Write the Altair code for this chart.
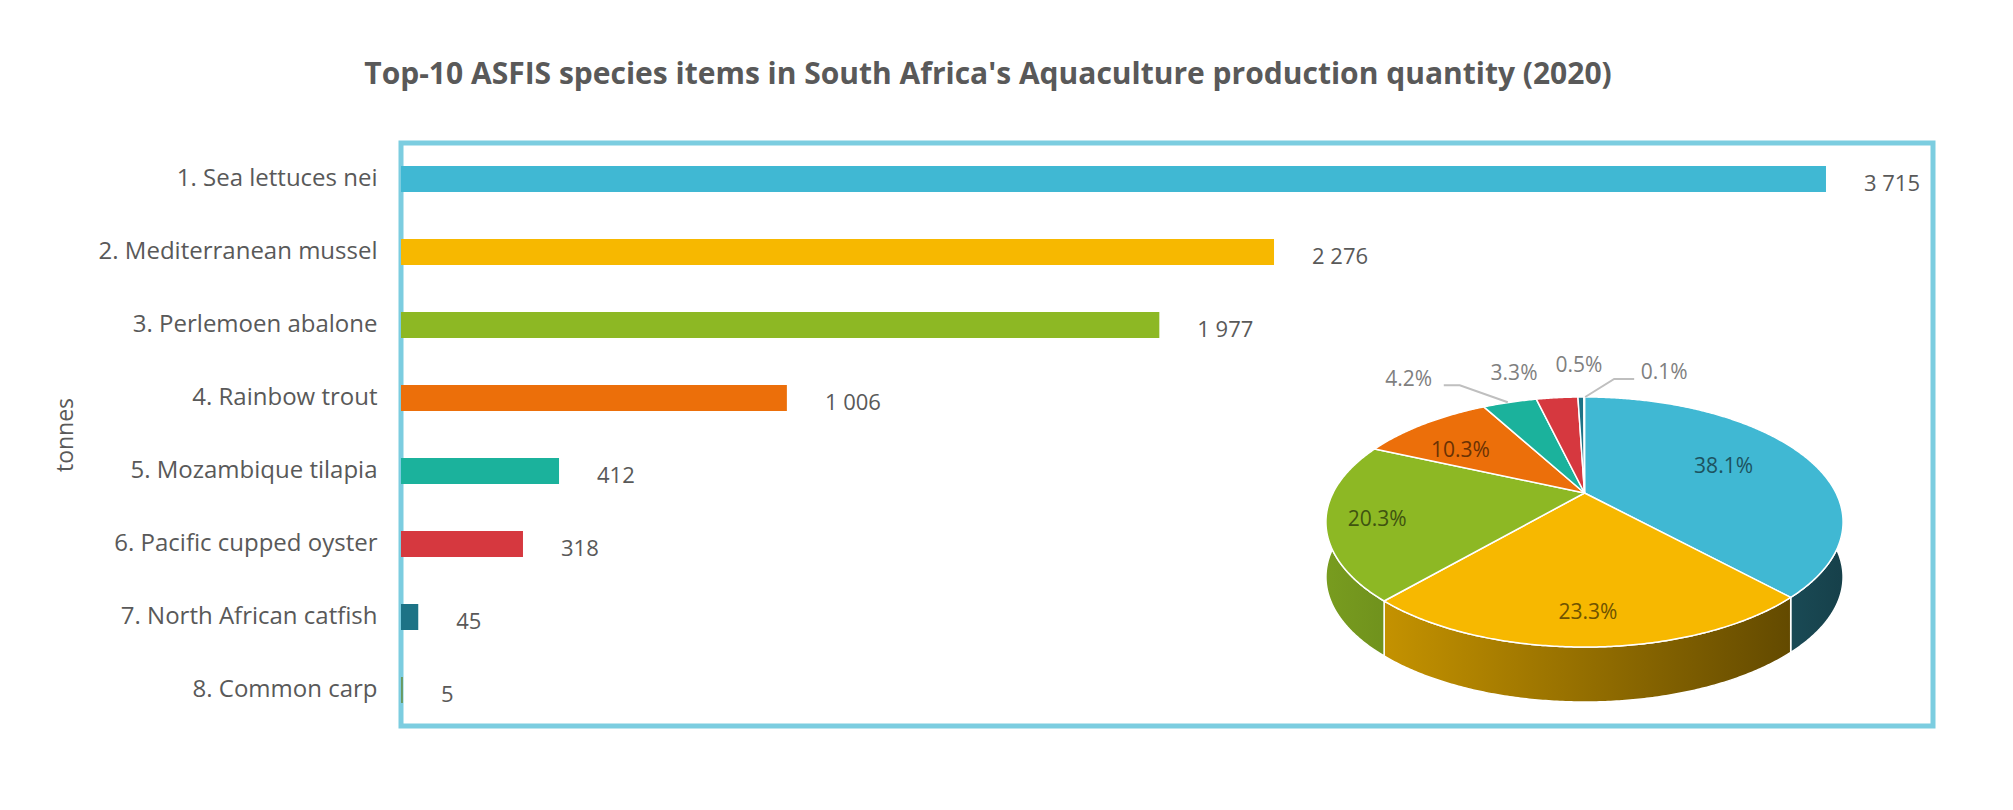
import math
import altair as alt
import pandas as pd

# ---------------- data ----------------
species = [
    "1. Sea lettuces nei",
    "2. Mediterranean mussel",
    "3. Perlemoen abalone",
    "4. Rainbow trout",
    "5. Mozambique tilapia",
    "6. Pacific cupped oyster",
    "7. North African catfish",
    "8. Common carp",
]
tonnes = [3715, 2276, 1977, 1006, 412, 318, 45, 5]

TITLE = "Top-10 ASFIS species items in South Africa's Aquaculture production quantity (2020)"
Y_TITLE = "tonnes"

# ---------------- style / layout ----------------
palette = ["#40B8D3", "#F7B800", "#8DB824", "#EC6F0A", "#1BB29C", "#D6383F", "#1D7386", "#6A9A60"]
TEXT_GREY = "#595959"
FONT = "Open Sans"

W, H = 1532, 583            # plot area (px)
XMAX = 3994                 # x scale upper bound (tonnes)
PAD_IN, PAD_OUT = 0.644, 0.315

# pie geometry (plot-local px), perspective 3D pie
PIE_CX, PIE_APEX_Y = 1183.5, 350.0
PIE_SX, PIE_SY, PIE_K, PIE_DEPTH = 251.5, 118.3, 0.232, 55.0
INNER_R = 0.75
INNER_DY = 7
INNER_NUDGE = {0: (-26, -3), 1: (0, 6), 2: (-16, 0), 3: (0, 5)}
# outside label placement relative to slice edge point (index -> dx, dy)
OUT_LABEL_OFFSETS = {4: (-101, -22), 5: (-43, -24), 6: (-2, -31), 7: (80, -24)}
LEADER_OFFSETS = {4: [(-66, -17), (-50, -17), (-2, 0)], 7: [(50, -18), (30, -18), (1, 0)]}

total = sum(tonnes)


def project(theta_deg, r=1.0):
    t = math.radians(theta_deg)
    u, v = r * math.sin(t), r * math.cos(t)
    w = 1 + PIE_K * v
    return PIE_CX + PIE_SX * u / w, PIE_APEX_Y - PIE_SY * v / w


def arc(a0, a1, step=0.5):
    n = max(2, int(math.ceil((a1 - a0) / step)) + 1)
    return [project(a0 + (a1 - a0) * j / (n - 1)) for j in range(n)]


def shade(hexcol, f):
    h = hexcol.lstrip("#")
    r, g, b = (int(h[i:i + 2], 16) for i in (0, 2, 4))
    return "#{:02X}{:02X}{:02X}".format(*(max(0, min(255, int(round(c * f)))) for c in (r, g, b)))


RX = PIE_SX / math.sqrt(1 - PIE_K ** 2)


def light(x):
    return 0.85 - 0.5 * (x - (PIE_CX - RX)) / (2 * RX)


# ---------------- derived tables ----------------
bar_df = pd.DataFrame({
    "species": species,
    "tonnes": tonnes,
    "label": [f"{v:,}".replace(",", " ") for v in tonnes],
})

top_rows, side_pieces, lab_rows, lead_rows = [], [], [], []
cum = 0
for i, (name, v) in enumerate(zip(species, tonnes)):
    a0 = cum / total * 360
    a1 = (cum + v) / total * 360
    cum += v
    mid = (a0 + a1) / 2
    pts = [(PIE_CX, PIE_APEX_Y)] + arc(a0, a1) + [(PIE_CX, PIE_APEX_Y)]
    for j, (x, y) in enumerate(pts):
        top_rows.append({"species": name, "i": j, "x": x, "y": y})
    lo, hi = max(a0, 90.0), min(a1, 270.0)
    if hi > lo:
        up = arc(lo, hi)
        down = [(x, y + PIE_DEPTH) for (x, y) in reversed(up)]
        ring = up + down + [up[0]]
        side_pieces.append((i, pd.DataFrame({"i": range(len(ring)),
                                             "x": [p[0] for p in ring],
                                             "y": [p[1] for p in ring]})))
    pct = f"{v / total * 100:.1f}%"
    if i in OUT_LABEL_OFFSETS:
        ex, ey = project(mid, 1.0)
        dx, dy = OUT_LABEL_OFFSETS[i]
        lab_rows.append({"txt": pct, "x": ex + dx, "y": ey + dy, "col": "#7F7F7F"})
        if i in LEADER_OFFSETS:
            for j, (ox, oy) in enumerate(LEADER_OFFSETS[i]):
                lead_rows.append({"species": name, "i": j, "x": ex + ox, "y": ey + oy})
    else:
        lx, ly = project(mid, INNER_R)
        nx, ny = INNER_NUDGE.get(i, (0, 0))
        lab_rows.append({"txt": pct, "x": lx + nx, "y": ly + INNER_DY + ny,
                         "col": shade(palette[i], 0.45)})

top_df = pd.DataFrame(top_rows)
lab_df = pd.DataFrame(lab_rows)
lead_df = pd.DataFrame(lead_rows)

# ---------------- charts ----------------
y_bar = alt.Y(
    "species:N",
    sort=species,
    scale=alt.Scale(domain=species, paddingInner=PAD_IN, paddingOuter=PAD_OUT),
    axis=alt.Axis(
        title=Y_TITLE, domain=False, ticks=False, grid=False,
        labelFont=FONT, labelFontSize=24, labelColor=TEXT_GREY, labelPadding=24, labelLimit=600,
        titleFont=FONT, titleFontSize=23, titleFontWeight="normal", titleColor=TEXT_GREY,
        titleAngle=-90, titleX=-336, titleY=H / 2, titleAlign="center", titleBaseline="middle",
    ),
)
x_bar = alt.X("tonnes:Q", scale=alt.Scale(domain=[0, XMAX], nice=False, zero=True), axis=None)

bars = alt.Chart(bar_df).mark_bar().encode(
    x=x_bar, y=y_bar,
    color=alt.Color("species:N", scale=alt.Scale(domain=species, range=palette), legend=None),
)

bar_text = alt.Chart(bar_df).mark_text(
    align="left", baseline="middle", dx=38, dy=5, font=FONT, fontSize=22, color=TEXT_GREY
).encode(
    x=x_bar,
    y=alt.Y("species:N", sort=species,
            scale=alt.Scale(domain=species, paddingInner=PAD_IN, paddingOuter=PAD_OUT), axis=None),
    text="label:N",
)

px = alt.X("x:Q", scale=alt.Scale(domain=[0, W], nice=False, zero=False), axis=None)
py = alt.Y("y:Q", scale=alt.Scale(domain=[0, H], nice=False, zero=False, reverse=True), axis=None)

side_layers = []
for i, df in side_pieces:
    xl, xr = df["x"].min(), df["x"].max()
    grad = {
        "gradient": "linear", "x1": 0, "y1": 0, "x2": 1, "y2": 0,
        "stops": [
            {"offset": 0, "color": shade(palette[i], light(xl))},
            {"offset": 1, "color": shade(palette[i], light(xr))},
        ],
    }
    side_layers.append(
        alt.Chart(df).mark_line(fill=grad, stroke="white", strokeWidth=1.5, strokeJoin="round")
        .encode(x=px, y=py, order="i:Q")
    )

tops = alt.Chart(top_df).mark_line(stroke="white", strokeWidth=1.5, strokeJoin="round").encode(
    x=px, y=py, order="i:Q", detail="species:N",
    fill=alt.Fill("species:N", scale=alt.Scale(domain=species, range=palette), legend=None),
)

leaders = alt.Chart(lead_df).mark_line(stroke="#BFBFBF", strokeWidth=2).encode(
    x=px, y=py, order="i:Q", detail="species:N"
)

pie_labels = alt.Chart(lab_df).mark_text(
    font=FONT, fontSize=21, align="center", baseline="middle"
).encode(x=px, y=py, text="txt:N", color=alt.Color("col:N", scale=None))

chart = alt.layer(bars, bar_text, *side_layers, tops, leaders, pie_labels).resolve_scale(
    x="independent", y="independent", color="independent", fill="independent"
).properties(
    width=W, height=H,
    background="white",
    title=alt.TitleParams(
        TITLE, font=FONT, fontSize=30, fontWeight="bold", color=TEXT_GREY,
        anchor="middle", frame="group", dx=-179, offset=29, baseline="alphabetic",
    ),
    autosize=alt.AutoSizeParams(type="none"),
    padding={"left": 393, "top": 135, "right": 70, "bottom": 70},
).configure_view(stroke="#7CCDE0", strokeWidth=5)

chart.save("out.html", embed_options={"renderer": "svg", "actions": False})
